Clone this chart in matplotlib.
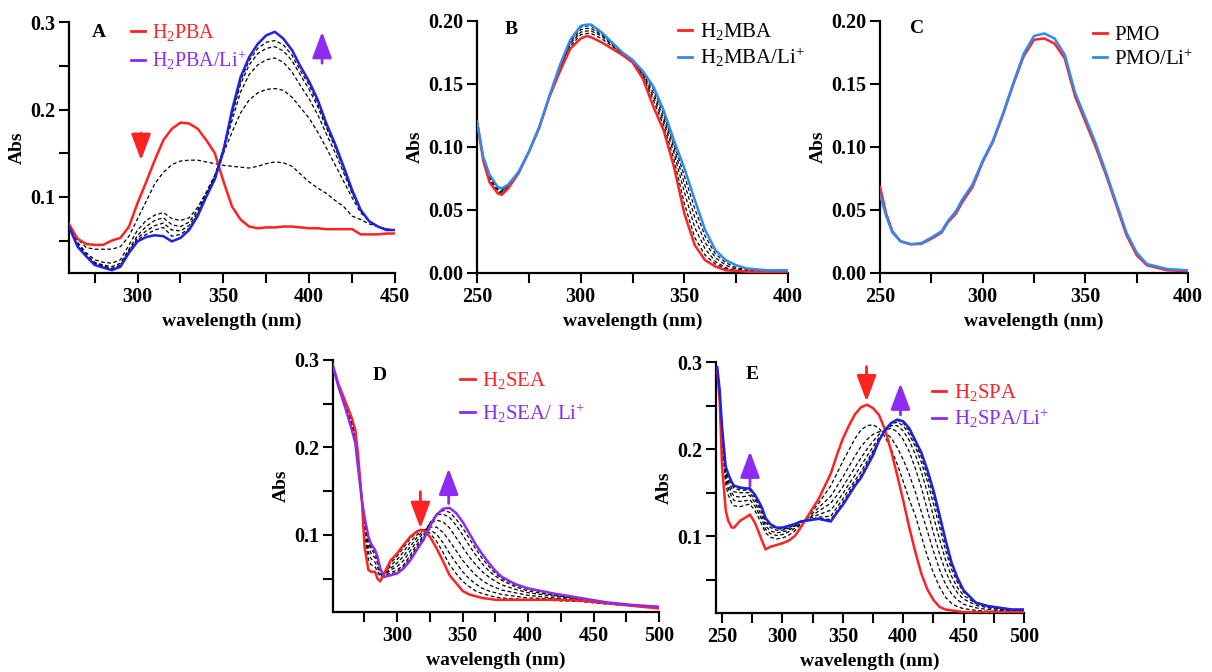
import matplotlib
matplotlib.use("Agg")
import matplotlib.pyplot as plt
from matplotlib.lines import Line2D
from matplotlib.ticker import MultipleLocator, FormatStrFormatter

plt.rcParams['font.family'] = ['Liberation Serif', 'DejaVu Serif']
plt.rcParams['mathtext.default'] = 'regular'

RED = '#ff2222'
BLUE_DARK = '#1c22e8'
BLUE_LIGHT = '#2f8af2'
PURPLE = '#8c2cf0'

# ---------------- panel A : H2PBA ----------------
wl_a = [260, 265, 270, 275, 280, 285, 290, 295, 300, 305, 310, 315, 320, 325, 330,
        335, 340, 345, 350, 355, 360, 365, 370, 375, 380, 385, 390, 395, 400, 405,
        410, 415, 420, 425, 430, 435, 440, 445, 450]
a_free = [.069, .052, .046, .045, .045, .050, .053, .066, .093, .117, .142, .165, .178, .185, .184,
          .178, .165, .150, .118, .089, .074, .066, .064, .065, .065, .066, .066, .065, .064, .064,
          .063, .063, .063, .063, .057, .057, .057, .058, .058]
a_li = [.066, .043, .032, .022, .019, .016, .020, .036, .049, .054, .056, .055, .049, .053, .062,
        .078, .100, .120, .152, .199, .237, .260, .275, .285, .289, .281, .268, .249, .232, .211,
        .184, .161, .135, .108, .085, .072, .066, .062, .062]
a_t1 = [.068, .052, .042, .040, .040, .040, .043, .055, .075, .095, .115, .128, .137, .141, .142,
        .142, .140, .138, .136, .135, .134, .133, .135, .138, .140, .139, .135, .126, .117, .110,
        .104, .096, .089, .078, .074, .069, .066, .063, .062]
a_t2 = [.067, .048, .036, .028, .025, .024, .028, .045, .062, .073, .079, .082, .075, .073, .076,
        .088, .105, .125, .150, .174, .196, .211, .219, .223, .224, .222, .214, .202, .190, .174,
        .156, .137, .118, .099, .082, .072, .066, .063, .062]
a_t3 = [.067, .046, .034, .025, .022, .020, .024, .040, .056, .066, .073, .076, .068, .066, .071,
        .085, .104, .124, .153, .187, .220, .240, .251, .257, .259, .254, .243, .227, .212, .194,
        .172, .151, .128, .104, .084, .072, .066, .063, .062]
a_t4 = [.066, .045, .033, .024, .021, .018, .022, .038, .053, .061, .067, .070, .062, .061, .067,
        .082, .102, .123, .155, .193, .229, .251, .264, .270, .272, .267, .256, .239, .223, .203,
        .179, .157, .132, .106, .085, .072, .066, .063, .062]
a_t5 = [.066, .044, .032, .023, .020, .017, .021, .037, .051, .057, .062, .065, .055, .057, .064,
        .080, .101, .123, .156, .196, .233, .256, .270, .277, .279, .274, .262, .244, .228, .207,
        .182, .159, .134, .107, .085, .072, .066, .062, .062]

# ---------------- panel B : H2MBA ----------------
wl_b = [250, 253, 256, 260, 262, 265, 270, 275, 280, 285, 290, 295, 300, 303, 305, 310,
        315, 320, 325, 330, 335, 340, 345, 350, 355, 360, 365, 370, 375, 380, 390, 400]
b_free = [.120, .089, .072, .063, .062, .067, .079, .096, .115, .140, .160, .178, .186, .188, .187, .183,
          .178, .173, .167, .154, .132, .113, .084, .047, .022, .010, .005, .002, .0015, .001, .0005, .0005]
b_li = [.120, .092, .078, .068, .067, .070, .080, .096, .116, .141, .165, .185, .196, .197, .197, .191,
        .183, .175, .169, .160, .148, .129, .105, .083, .058, .034, .018, .010, .006, .0035, .002, .002]
b_t1 = [.120, .090, .074, .064, .063, .068, .079, .096, .115, .140, .161, .180, .189, .190, .190, .186,
        .180, .174, .168, .156, .137, .117, .090, .055, .028, .014, .007, .003, .002, .001, .001, .001]
b_t2 = [.120, .091, .075, .065, .064, .068, .079, .096, .115, .140, .162, .182, .191, .192, .192, .188,
        .181, .174, .168, .157, .140, .120, .095, .064, .036, .019, .009, .004, .002, .0015, .001, .001]
b_t3 = [.120, .091, .076, .066, .065, .069, .080, .096, .116, .141, .163, .183, .193, .194, .194, .189,
        .182, .175, .169, .158, .143, .123, .099, .071, .044, .024, .012, .006, .003, .002, .0015, .0015]
b_t4 = [.120, .092, .077, .067, .066, .069, .080, .096, .116, .141, .164, .184, .195, .196, .196, .190,
        .183, .175, .169, .159, .146, .126, .102, .077, .051, .029, .015, .008, .004, .0025, .002, .002]

# ---------------- panel C : PMO ----------------
wl_c = [250, 253, 256, 260, 265, 270, 275, 280, 283, 287, 290, 295, 300, 305, 310, 315,
        320, 325, 330, 335, 340, 345, 350, 355, 360, 365, 370, 375, 380, 390, 400]
c_free = [.068, .047, .033, .025, .0226, .023, .027, .032, .040, .047, .056, .068, .088, .104, .126, .150,
          .172, .185, .186, .182, .170, .140, .120, .100, .078, .054, .030, .014, .006, .002, .0013]
c_li = [.062, .045, .032, .025, .0228, .0235, .028, .033, .041, .049, .058, .070, .089, .105, .127, .151,
        .174, .188, .190, .186, .173, .143, .123, .103, .080, .056, .032, .016, .007, .003, .002]

# ---------------- panel D : H2SEA ----------------
wl_d = [250, 255, 260, 265, 268, 270, 273, 275, 278, 280, 283, 285, 287, 290, 295, 300,
        305, 310, 315, 318, 320, 325, 330, 335, 340, 345, 350, 355, 360, 365, 370, 375,
        380, 390, 400, 420, 440, 460, 480, 500]
d_free = [.298, .273, .254, .235, .220, .193, .140, .087, .060, .058, .058, .050, .047, .056, .071, .079,
          .089, .098, .104, .106, .105, .098, .085, .070, .054, .045, .036, .032, .030, .028, .027, .026,
          .026, .026, .026, .026, .025, .022, .019, .016]
d_li = [.298, .270, .247, .222, .205, .178, .140, .121, .098, .090, .083, .075, .062, .052, .054, .056,
        .062, .071, .083, .090, .094, .110, .123, .130, .131, .125, .115, .102, .089, .078, .068, .059,
        .052, .044, .039, .033, .028, .023, .020, .018]
d_t1 = [.298, .272, .252, .232, .216, .190, .145, .100, .072, .066, .064, .058, .052, .056, .068, .076,
        .086, .096, .103, .106, .106, .102, .093, .080, .066, .056, .047, .041, .036, .033, .031, .029,
        .028, .027, .026, .025, .024, .021, .019, .017]
d_t2 = [.298, .272, .251, .230, .214, .187, .142, .105, .080, .073, .069, .063, .055, .055, .065, .072,
        .081, .092, .100, .104, .106, .106, .101, .091, .079, .068, .058, .050, .044, .039, .036, .034,
        .032, .030, .028, .027, .025, .022, .019, .017]
d_t3 = [.298, .271, .250, .228, .211, .184, .141, .110, .086, .079, .074, .068, .058, .055, .062, .068,
        .076, .087, .097, .102, .105, .109, .109, .103, .093, .082, .071, .062, .054, .048, .043, .040,
        .037, .034, .031, .028, .025, .022, .019, .017]
d_t4 = [.298, .271, .249, .226, .209, .182, .140, .114, .091, .084, .078, .071, .060, .054, .060, .064,
        .071, .082, .093, .099, .103, .113, .117, .115, .108, .097, .086, .075, .066, .058, .052, .047,
        .043, .038, .034, .030, .026, .022, .019, .017]
d_t5 = [.298, .270, .248, .224, .207, .180, .140, .118, .095, .087, .081, .073, .061, .053, .057, .060,
        .066, .077, .089, .095, .100, .114, .123, .124, .120, .111, .100, .088, .077, .067, .059, .053,
        .048, .041, .036, .031, .027, .023, .020, .018]
d_t6 = [.298, .270, .247, .223, .206, .179, .140, .120, .097, .089, .082, .074, .062, .052, .055, .058,
        .064, .074, .086, .093, .097, .112, .124, .128, .126, .118, .108, .096, .084, .073, .064, .056,
        .050, .043, .038, .032, .027, .023, .020, .018]

# ---------------- panel E : H2SPA ----------------
wl_e = [246, 248, 250, 253, 255, 258, 260, 265, 270, 273, 277, 280, 283, 286, 290, 295, 300,
        305, 310, 315, 320, 330, 340, 345, 350, 355, 360, 365, 370, 375, 380, 385, 390, 395,
        400, 405, 410, 415, 420, 425, 430, 435, 440, 445, 450, 460, 470, 480, 490, 500]
e_free = [.290, .256, .180, .130, .118, .110, .110, .118, .122, .125, .116, .106, .095, .085, .088, .090, .092,
          .095, .100, .110, .121, .143, .172, .193, .212, .227, .240, .248, .251, .247, .239, .222, .198, .170,
          .141, .110, .082, .057, .039, .027, .019, .016, .015, .014, .013, .013, .013, .013, .013, .013]
e_li = [.294, .268, .225, .180, .172, .162, .158, .156, .155, .155, .148, .141, .133, .121, .114, .110, .110,
        .112, .114, .117, .118, .120, .117, .127, .136, .147, .158, .167, .180, .193, .210, .222, .230, .234,
        .232, .224, .210, .196, .176, .153, .125, .096, .070, .052, .038, .024, .020, .018, .016, .016]
e_t1 = [.291, .262, .205, .160, .148, .138, .135, .134, .136, .137, .130, .122, .113, .104, .099, .097, .098,
        .101, .106, .114, .121, .138, .158, .172, .186, .199, .212, .222, .227, .228, .224, .214, .200, .183,
        .163, .142, .124, .100, .077, .058, .042, .030, .023, .019, .017, .015, .014, .014, .014, .014]
e_t2 = [.292, .264, .212, .166, .155, .145, .141, .140, .141, .142, .135, .127, .119, .108, .103, .101, .102,
        .105, .109, .115, .120, .133, .146, .157, .168, .180, .192, .203, .211, .217, .220, .219, .213, .202,
        .188, .171, .151, .128, .106, .083, .062, .045, .034, .027, .022, .018, .016, .015, .015, .015]
e_t3 = [.292, .265, .216, .170, .160, .150, .146, .145, .146, .147, .139, .131, .123, .112, .106, .104, .105,
        .107, .111, .116, .119, .129, .138, .147, .157, .168, .179, .190, .200, .209, .217, .222, .224, .220,
        .211, .197, .178, .156, .130, .104, .080, .060, .045, .035, .028, .021, .018, .016, .015, .015]
e_t4 = [.293, .266, .219, .174, .164, .155, .151, .150, .150, .150, .143, .135, .127, .116, .110, .107, .107,
        .109, .112, .117, .119, .125, .130, .139, .149, .160, .170, .181, .192, .203, .213, .221, .227, .227,
        .221, .210, .194, .174, .150, .123, .097, .073, .054, .041, .032, .023, .019, .017, .016, .016]
e_t5 = [.293, .267, .222, .177, .168, .159, .155, .153, .153, .153, .146, .138, .130, .119, .112, .109, .108,
        .110, .113, .117, .118, .122, .123, .133, .143, .154, .164, .174, .186, .198, .211, .221, .229, .231,
        .227, .217, .203, .185, .163, .137, .111, .084, .062, .047, .036, .024, .020, .017, .016, .016]
e_t6 = [.294, .268, .224, .179, .170, .161, .157, .155, .154, .154, .147, .140, .132, .120, .113, .110, .109,
        .111, .114, .117, .118, .121, .119, .129, .139, .150, .161, .170, .183, .196, .211, .222, .230, .233,
        .230, .221, .207, .191, .170, .146, .119, .091, .067, .050, .037, .024, .020, .018, .016, .016]


def style_axes(ax, xlim, ylim, xmaj, xmin, ymaj, ymin, yfmt):
    ax.set_xlim(*xlim)
    ax.set_ylim(*ylim)
    ax.xaxis.set_major_locator(MultipleLocator(xmaj))
    ax.xaxis.set_minor_locator(MultipleLocator(xmin))
    ax.yaxis.set_major_locator(MultipleLocator(ymaj))
    if ymin:
        ax.yaxis.set_minor_locator(MultipleLocator(ymin))
    ax.yaxis.set_major_formatter(FormatStrFormatter(yfmt))
    for s in ('top', 'right'):
        ax.spines[s].set_visible(False)
    for s in ('left', 'bottom'):
        ax.spines[s].set_linewidth(1.6)
    ax.tick_params(which='both', direction='out', length=7, width=1.5, labelsize=14.5, pad=3)
    for lab in ax.get_xticklabels() + ax.get_yticklabels():
        lab.set_fontweight('bold')
    ax.set_xlabel('wavelength (nm)', fontsize=14, fontweight='bold', labelpad=4)
    ax.set_ylabel('Abs', fontsize=14, fontweight='bold', labelpad=3)


def dashed(ax, wl, curves):
    for c in curves:
        ax.plot(wl, c, color='black', lw=0.9, ls=(0, (3, 2)), zorder=2)


def arrow(ax, x, y0, y1, color):
    ax.annotate('', xy=(x, y1), xytext=(x, y0),
                arrowprops=dict(arrowstyle='-|>,head_length=0.8,head_width=0.3',
                                color=color, lw=2, mutation_scale=20, shrinkA=0, shrinkB=0))


def legend(ax, labels, colors, text_colors, anchor, spacing=0.2, size=15):
    handles = [Line2D([], [], color=c, lw=2) for c in colors]
    leg = ax.legend(handles, labels, loc='upper left', bbox_to_anchor=anchor, frameon=False,
                    handlelength=0.7, handletextpad=0.35, labelspacing=spacing,
                    borderaxespad=0, borderpad=0, fontsize=size)
    leg.set_zorder(10)
    for t, c in zip(leg.get_texts(), text_colors):
        t.set_color(c)


fig = plt.figure(figsize=(12.12, 6.72), dpi=100)
ax_a = fig.add_axes([0.0569, 0.594, 0.269, 0.373])
ax_b = fig.add_axes([0.3936, 0.594, 0.2566, 0.375])
ax_c = fig.add_axes([0.7261, 0.594, 0.2541, 0.375])
ax_d = fig.add_axes([0.2748, 0.0893, 0.2690, 0.3750])
ax_e = fig.add_axes([0.5908, 0.0878, 0.2541, 0.3735])

# A
dashed(ax_a, wl_a, [a_t1, a_t2, a_t3, a_t4, a_t5])
ax_a.plot(wl_a, a_free, color=RED, lw=1.8, zorder=3)
ax_a.plot(wl_a, a_li, color=BLUE_DARK, lw=1.8, zorder=3)
style_axes(ax_a, (260, 450), (0.013, 0.3), 50, 25, 0.1, 0.05, '%.1f')
arrow(ax_a, 302, 0.173, 0.142, RED)
arrow(ax_a, 407.5, 0.253, 0.289, PURPLE)
legend(ax_a, [r'$\mathregular{H_2PBA}$', r'$\mathregular{H_2PBA/Li^{+}}$'],
       [RED, PURPLE], [RED, PURPLE], (0.19, 1.0), spacing=0.3, size=14.5)
ax_a.text(0.07, 0.96, 'A', transform=ax_a.transAxes, fontsize=14, fontweight='bold', va='center')

# B
dashed(ax_b, wl_b, [b_t1, b_t2, b_t3, b_t4])
ax_b.plot(wl_b, b_free, color=RED, lw=1.8, zorder=3)
ax_b.plot(wl_b, b_li, color=BLUE_LIGHT, lw=1.8, zorder=3)
style_axes(ax_b, (250, 400), (0, 0.2), 50, 25, 0.05, None, '%.2f')
legend(ax_b, [r'$\mathregular{H_2MBA}$', r'$\mathregular{H_2MBA/Li^{+}}$'],
       [RED, BLUE_LIGHT], ['black', 'black'], (0.645, 1.0))
ax_b.text(0.09, 0.965, 'B', transform=ax_b.transAxes, fontsize=14, fontweight='bold', va='center')

# C
ax_c.plot(wl_c, c_free, color=RED, lw=1.8, zorder=3)
ax_c.plot(wl_c, c_li, color=BLUE_LIGHT, lw=1.8, zorder=3)
style_axes(ax_c, (250, 400), (0, 0.2), 50, 25, 0.05, None, '%.2f')
legend(ax_c, ['PMO', r'$\mathregular{PMO/Li^{+}}$'],
       [RED, BLUE_LIGHT], ['black', 'black'], (0.69, 0.98))
ax_c.text(0.097, 0.97, 'C', transform=ax_c.transAxes, fontsize=14, fontweight='bold', va='center')

# D
dashed(ax_d, wl_d, [d_t1, d_t2, d_t3, d_t4, d_t5, d_t6])
ax_d.plot(wl_d, d_free, color=RED, lw=1.8, zorder=3)
ax_d.plot(wl_d, d_li, color=PURPLE, lw=1.8, zorder=3)
style_axes(ax_d, (251, 500), (0.012, 0.3), 50, 25, 0.1, 0.05, '%.1f')
arrow(ax_d, 317.7, 0.1495, 0.1077, RED)
arrow(ax_d, 339.3, 0.136, 0.176, PURPLE)
legend(ax_d, [r'$\mathregular{H_2SEA}$', r'$\mathregular{H_2SEA/\ Li^{+}}$'],
       [RED, PURPLE], [RED, PURPLE], (0.39, 0.96), spacing=0.5)
ax_d.text(0.12, 0.94, 'D', transform=ax_d.transAxes, fontsize=14, fontweight='bold', va='center')

# E
dashed(ax_e, wl_e, [e_t1, e_t2, e_t3, e_t4, e_t5, e_t6])
ax_e.plot(wl_e, e_free, color=RED, lw=1.8, zorder=3)
ax_e.plot(wl_e, e_li, color=BLUE_DARK, lw=1.8, zorder=3)
style_axes(ax_e, (245, 500), (0.012, 0.3), 50, 25, 0.1, 0.05, '%.1f')
arrow(ax_e, 369.6, 0.2947, 0.2547, RED)
arrow(ax_e, 397.7, 0.2394, 0.2756, PURPLE)
arrow(ax_e, 273.1, 0.1575, 0.1975, PURPLE)
legend(ax_e, [r'$\mathregular{H_2SPA}$', r'$\mathregular{H_2SPA/Li^{+}}$'],
       [RED, PURPLE], [RED, PURPLE], (0.70, 0.92))
ax_e.text(0.097, 0.95, 'E', transform=ax_e.transAxes, fontsize=14, fontweight='bold', va='center')

fig.savefig('out.png', dpi=100)
